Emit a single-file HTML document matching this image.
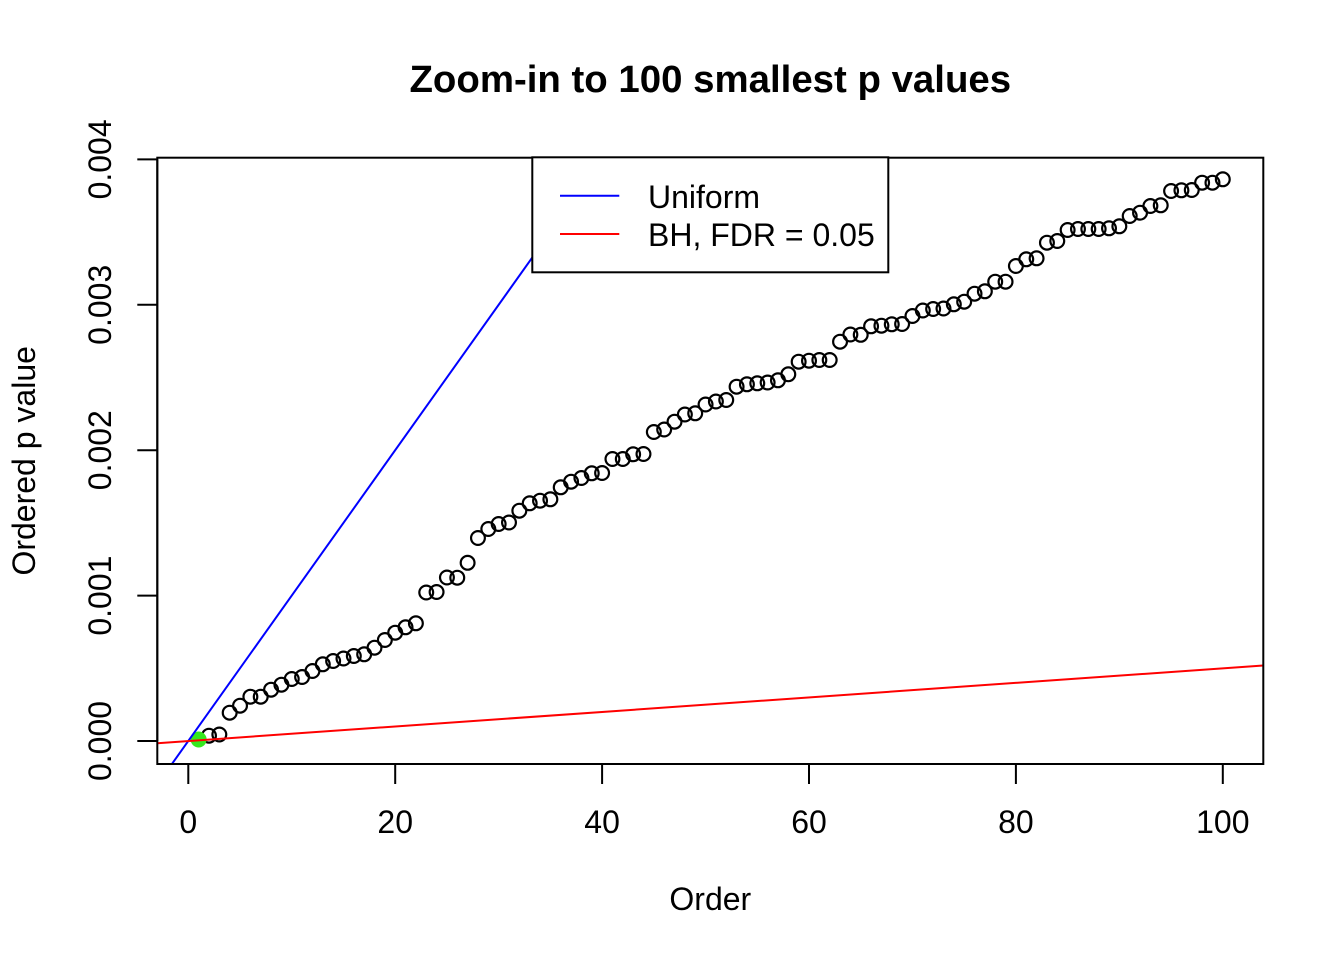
<!DOCTYPE html>
<html>
<head>
<meta charset="utf-8">
<style>
html,body{margin:0;padding:0;background:#fff;}
svg{display:block;}
text{font-family:"Liberation Sans",Arial,sans-serif;fill:#000;}
</style>
</head>
<body>
<svg width="1344" height="960" viewBox="0 0 1344 960" xmlns="http://www.w3.org/2000/svg">
<defs>
<clipPath id="pc"><rect x="157.3" y="157.7" width="1106" height="606.3"/></clipPath>
<marker id="m" markerWidth="20" markerHeight="20" refX="10" refY="10" markerUnits="userSpaceOnUse" overflow="visible">
<circle cx="10" cy="10" r="6.9" fill="none" stroke="#000" stroke-width="2.2"/>
</marker>
</defs>
<rect width="1344" height="960" fill="#fff"/>
<polyline fill="none" stroke="none" marker-start="url(#m)" marker-mid="url(#m)" marker-end="url(#m)"
points="208.99,735.7 219.34,734.5 229.68,712.7 240.03,705.7 250.37,696.7 260.72,696.7 271.06,689.7 281.41,684.7 291.75,679 302.10,677 312.44,671 322.79,664.3 333.13,661 343.48,658.5 353.82,656 364.17,654.3 374.51,647.7 384.86,640 395.20,632.7 405.55,627.3 415.89,623.3 426.24,592.5 436.58,592 446.93,577.5 457.27,577.7 467.62,562.8 477.96,538 488.31,529 498.65,524 509.00,522.5 519.34,510.7 529.69,503.3 540.03,500.7 550.38,499.3 560.72,487.3 571.07,481.7 581.41,478 591.76,473.3 602.10,473 612.45,459 622.79,459 633.14,454.3 643.48,454 653.83,432 664.17,429.5 674.52,421.7 684.86,414.5 695.21,413.3 705.55,404.5 715.90,401.5 726.24,400 736.59,386.7 746.93,384.3 757.28,383.3 767.62,382.5 777.97,380.3 788.31,374.3 798.66,361.7 809.00,360.7 819.35,360 829.69,360 840.04,341.7 850.38,334.5 860.73,334.8 871.07,326.3 881.42,325.7 891.76,324.3 902.11,324 912.45,316 922.80,310.5 933.14,309 943.49,308.5 953.83,304.3 964.18,301.7 974.52,293.7 984.87,291.3 995.21,281.7 1005.56,281.7 1015.90,266 1026.25,259.3 1036.59,258.3 1046.94,242.7 1057.28,241 1067.63,230 1077.97,229 1088.32,229 1098.66,229 1109.01,228.3 1119.35,226.3 1129.70,216 1140.04,212.7 1150.39,206 1160.73,205.3 1171.08,191 1181.42,190.3 1191.77,190 1202.11,182.7 1212.46,182.7 1222.80,179.3"/>
<circle cx="198.65" cy="739.5" r="8" fill="#35e81e"/>
<g clip-path="url(#pc)" stroke-width="2" fill="none">
<line x1="171.9" y1="764" x2="603.3" y2="157.7" stroke="#0000ff"/>
<line x1="157.3" y1="743.2" x2="1263.3" y2="665.5" stroke="#ff0000"/>
</g>
<rect x="157.3" y="157.7" width="1106" height="606.3" fill="none" stroke="#000" stroke-width="2"/>
<rect x="532.3" y="157.3" width="356" height="115" fill="#fff" stroke="#000" stroke-width="2"/>
<line x1="560" y1="195.7" x2="619.3" y2="195.7" stroke="#0000ff" stroke-width="2"/>
<line x1="560" y1="234" x2="619.3" y2="234" stroke="#ff0000" stroke-width="2"/>
<text x="648" y="208" font-size="32">Uniform</text>
<text x="648" y="246" font-size="32">BH, FDR = 0.05</text>
<path stroke="#000" stroke-width="2" fill="none" d="M188.3 764H1222.8M188.3 764V784M395.2 764V784M602.1 764V784M809 764V784M1015.9 764V784M1222.8 764V784"/>
<g font-size="32" text-anchor="middle">
<text x="188.3" y="833">0</text>
<text x="395.2" y="833">20</text>
<text x="602.1" y="833">40</text>
<text x="809.0" y="833">60</text>
<text x="1015.9" y="833">80</text>
<text x="1222.8" y="833">100</text>
</g>
<path stroke="#000" stroke-width="2" fill="none" d="M157.3 159.4V741M137.3 741H157.3M137.3 595.6H157.3M137.3 450.2H157.3M137.3 304.8H157.3M137.3 159.4H157.3"/>
<g font-size="32" text-anchor="middle">
<text transform="translate(111,741) rotate(-90)">0.000</text>
<text transform="translate(111,595.6) rotate(-90)">0.001</text>
<text transform="translate(111,450.2) rotate(-90)">0.002</text>
<text transform="translate(111,304.8) rotate(-90)">0.003</text>
<text transform="translate(111,159.4) rotate(-90)">0.004</text>
</g>
<text x="710.3" y="92" font-size="38.4" font-weight="bold" text-anchor="middle">Zoom-in to 100 smallest p values</text>
<text x="710.3" y="910" font-size="32" text-anchor="middle">Order</text>
<text transform="translate(35,460.8) rotate(-90)" font-size="32" text-anchor="middle">Ordered p value</text>
</svg>
</body>
</html>
